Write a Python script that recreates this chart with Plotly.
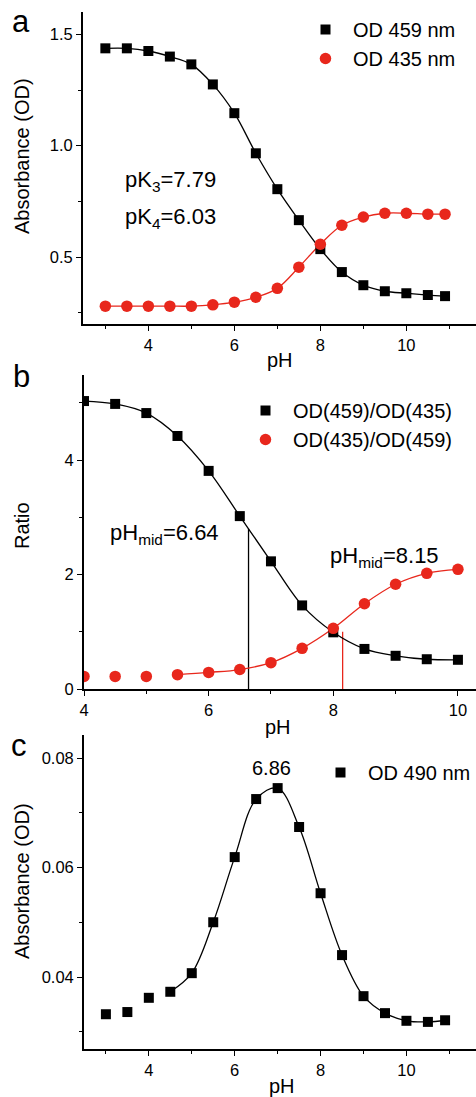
import plotly.graph_objects as go

W, H = 476, 1097
FONT = "Liberation Sans, Arial, Helvetica, sans-serif"
RED = "#e8271c"

# ---- panel a: absorbance vs pH ----
ph_a = [3, 3.5, 4, 4.5, 5, 5.5, 6, 6.5, 7, 7.5, 8, 8.5, 9, 9.5, 10, 10.5, 10.9]
od459 = [1.437, 1.437, 1.425, 1.400, 1.365, 1.275, 1.146, 0.966, 0.805, 0.666,
         0.536, 0.433, 0.374, 0.347, 0.338, 0.330, 0.325]
od435 = [0.280, 0.280, 0.280, 0.280, 0.280, 0.286, 0.298, 0.320, 0.360, 0.455,
         0.558, 0.643, 0.680, 0.697, 0.697, 0.693, 0.693]

# ---- panel b: ratios ----
ph_b = [4, 4.5, 5, 5.5, 6, 6.5, 7, 7.5, 8, 8.5, 9, 9.5, 10]
ratio_459_435 = [5.03, 4.98, 4.82, 4.42, 3.81, 3.02, 2.23, 1.46, 0.99, 0.70, 0.58, 0.52, 0.51]
ratio_435_459 = [0.22, 0.22, 0.22, 0.25, 0.29, 0.34, 0.46, 0.71, 1.06, 1.49, 1.83, 2.02, 2.09]
ph_mid = [6.64, 8.15]
ph_mid_top = [2.8, 1.0]

# ---- panel c: OD 490 nm ----
ph_c = [3, 3.5, 4, 4.5, 5, 5.5, 6, 6.5, 7, 7.5, 8, 8.5, 9, 9.5, 10, 10.5, 10.9]
od490 = [0.0332, 0.0336, 0.0362, 0.0373, 0.0407, 0.0500, 0.0619, 0.0725, 0.0745,
         0.0674, 0.0553, 0.0440, 0.0365, 0.0334, 0.0320, 0.0318, 0.0321]
peak_ph = 6.86
c_fit_start = 3  # index where the fitted curve begins (pH 4.5)
b_red_fit_start = 3  # index where the red fitted curve begins (pH 5.5)


def px(x):
    return x / W


def py(y):
    return 1 - y / H


fig = go.Figure()

SQ = 10
CI = 11.5

# panel a
fig.add_trace(go.Scatter(x=ph_a, y=od459, mode="lines", line=dict(color="black", width=1.3, shape="spline"),
                         xaxis="x", yaxis="y", showlegend=False, hoverinfo="skip"))
fig.add_trace(go.Scatter(x=ph_a, y=od435, mode="lines", line=dict(color=RED, width=1.3, shape="spline"),
                         xaxis="x", yaxis="y", showlegend=False, hoverinfo="skip"))
fig.add_trace(go.Scatter(x=ph_a, y=od459, mode="markers", name="OD 459 nm",
                         marker=dict(symbol="square", size=SQ, color="black"),
                         xaxis="x", yaxis="y", legend="legend"))
fig.add_trace(go.Scatter(x=ph_a, y=od435, mode="markers", name="OD 435 nm",
                         marker=dict(symbol="circle", size=CI, color=RED),
                         xaxis="x", yaxis="y", legend="legend"))

# panel b
fig.add_trace(go.Scatter(x=[ph_mid[0], ph_mid[0]], y=[0, ph_mid_top[0]], mode="lines",
                         line=dict(color="black", width=1.3), xaxis="x2", yaxis="y2",
                         showlegend=False, hoverinfo="skip"))
fig.add_trace(go.Scatter(x=[ph_mid[1], ph_mid[1]], y=[0, ph_mid_top[1]], mode="lines",
                         line=dict(color=RED, width=1.3), xaxis="x2", yaxis="y2",
                         showlegend=False, hoverinfo="skip"))
fig.add_trace(go.Scatter(x=ph_b, y=ratio_459_435, mode="lines", line=dict(color="black", width=1.3, shape="spline"),
                         xaxis="x2", yaxis="y2", showlegend=False, hoverinfo="skip"))
fig.add_trace(go.Scatter(x=ph_b[b_red_fit_start:], y=ratio_435_459[b_red_fit_start:], mode="lines",
                         line=dict(color=RED, width=1.3, shape="spline"),
                         xaxis="x2", yaxis="y2", showlegend=False, hoverinfo="skip"))
fig.add_trace(go.Scatter(x=ph_b, y=ratio_459_435, mode="markers", name="OD(459)/OD(435)",
                         marker=dict(symbol="square", size=SQ, color="black"),
                         xaxis="x2", yaxis="y2", legend="legend2"))
fig.add_trace(go.Scatter(x=ph_b, y=ratio_435_459, mode="markers", name="OD(435)/OD(459)",
                         marker=dict(symbol="circle", size=CI, color=RED),
                         xaxis="x2", yaxis="y2", legend="legend2"))

# panel c
fig.add_trace(go.Scatter(x=ph_c[c_fit_start:], y=od490[c_fit_start:], mode="lines",
                         line=dict(color="black", width=1.3, shape="spline"),
                         xaxis="x3", yaxis="y3", showlegend=False, hoverinfo="skip"))
fig.add_trace(go.Scatter(x=ph_c, y=od490, mode="markers", name="OD 490 nm",
                         marker=dict(symbol="square", size=SQ, color="black"),
                         xaxis="x3", yaxis="y3", legend="legend3"))


def axis(domain, rng, dtick, minor_dtick, anchor, fmt=None, tick0=0):
    d = dict(domain=domain, range=rng, anchor=anchor, showline=True, linecolor="black",
             linewidth=1.8, ticks="outside", ticklen=5, tickwidth=1.3, tickcolor="black",
             showgrid=False, zeroline=False, tick0=tick0, dtick=dtick,
             tickfont=dict(family=FONT, size=16.5, color="black"),
             minor=dict(dtick=minor_dtick, tick0=tick0, ticks="outside", ticklen=3,
                        tickwidth=1.2, tickcolor="black", showgrid=False))
    if fmt:
        d["tickformat"] = fmt
    return d


xdom_a = [px(83), 1.0]
xdom_b = [px(84), 1.0]
xdom_c = [px(84), 1.0]


def legend_box(left_px, top_px):
    return dict(x=px(left_px), y=py(top_px), xanchor="left", yanchor="top",
                bgcolor="rgba(0,0,0,0)", itemwidth=45, tracegroupgap=0,
                font=dict(family=FONT, size=20, color="black"))


fig.update_layout(
    width=W, height=H, margin=dict(l=0, r=0, t=0, b=0, autoexpand=False),
    paper_bgcolor="white", plot_bgcolor="white",
    font=dict(family=FONT, color="black"),
    xaxis=axis(xdom_a, [2.48, 11.62], 2, 1, "y"),
    yaxis=axis([py(324), py(12)], [0.2, 1.6], 0.5, 0.25, "x", ".1f"),
    xaxis2=axis(xdom_b, [4, 10.29], 2, 1, "y2"),
    yaxis2=axis([py(689), py(375)], [0, 5.485], 2, 1, "x2"),
    xaxis3=axis(xdom_c, [2.49, 11.62], 2, 1, "y3"),
    yaxis3=axis([py(1049), py(735)], [0.02685, 0.0842], 0.02, 0.01, "x3", ".2f"),
    legend=legend_box(298, 10),
    legend2=legend_box(238, 391),
    legend3=legend_box(313, 753),
)

annots = [
    # panel letters
    dict(text="a", x=px(21), y=py(22), size=31),
    dict(text="b", x=px(21), y=py(377), size=31),
    dict(text="c", x=px(19), y=py(745), size=31),
    # axis titles
    dict(text="Absorbance (OD)", x=px(22), y=py(156), size=20, angle=-90),
    dict(text="pH", x=px(280), y=py(360), size=20),
    dict(text="Ratio", x=px(22), y=py(526), size=20, angle=-90),
    dict(text="pH", x=px(278), y=py(727), size=20),
    dict(text="Absorbance (OD)", x=px(22), y=py(881), size=20, angle=-90),
    dict(text="pH", x=px(282), y=py(1086), size=20),
    # fitted constants
    dict(text="pK<sub>3</sub>=7.79", x=px(123), y=py(181), size=22, xanchor="left"),
    dict(text="pK<sub>4</sub>=6.03", x=px(123), y=py(218), size=22, xanchor="left"),
    dict(text="pH<sub>mid</sub>=%.2f" % ph_mid[0], x=px(108), y=py(534), size=22, xanchor="left"),
    dict(text="pH<sub>mid</sub>=%.2f" % ph_mid[1], x=px(328), y=py(557), size=22, xanchor="left"),
]
for a in annots:
    fig.add_annotation(text=a["text"], x=a["x"], y=a["y"], xref="paper", yref="paper",
                       xanchor=a.get("xanchor", "center"), yanchor="middle",
                       textangle=a.get("angle", 0), showarrow=False,
                       font=dict(family=FONT, size=a["size"], color="black"))

# peak position label in panel c
fig.add_annotation(text="%.2f" % peak_ph, x=peak_ph, y=0.0782, xref="x3", yref="y3",
                   xanchor="center", yanchor="middle", showarrow=False,
                   font=dict(family=FONT, size=20, color="black"))

fig.write_html("out.html")
